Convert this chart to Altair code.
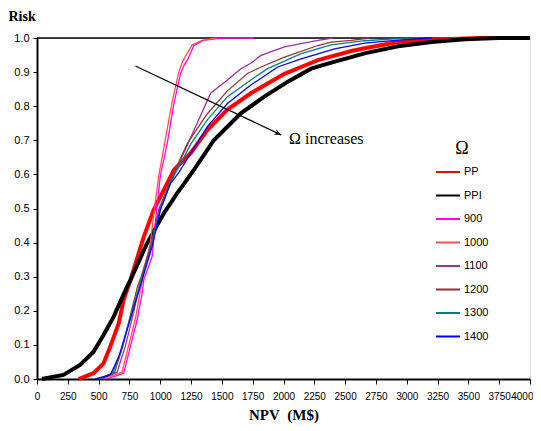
import altair as alt
import pandas as pd

series = ["PP", "PPI", "900", "1000", "1100", "1200", "1300", "1400"]
colors = ["#ff0000", "#000000", "#ff00ff", "#ff5050", "#993399", "#993333", "#008080", "#0000ff"]
thick_series = ["PP", "PPI"]

pp_npv = [337, 459, 540, 595, 663, 703, 758, 866, 947, 1057, 1111, 1246, 1382, 1545, 1735, 2008, 2143, 2279, 2550, 2658, 2930, 3202, 3582, 4000]
pp_risk = [0, 0.017, 0.046, 0.095, 0.163, 0.232, 0.29, 0.417, 0.496, 0.574, 0.613, 0.662, 0.73, 0.79, 0.838, 0.895, 0.915, 0.935, 0.962, 0.97, 0.988, 0.995, 1.0, 1.0]

ppi_npv = [40, 214, 350, 459, 540, 622, 731, 758, 893, 1029, 1138, 1273, 1436, 1654, 1844, 2035, 2224, 2387, 2550, 2658, 2930, 3202, 3473, 3745, 4000]
ppi_risk = [0, 0.012, 0.041, 0.08, 0.129, 0.183, 0.271, 0.29, 0.398, 0.486, 0.545, 0.613, 0.701, 0.779, 0.828, 0.872, 0.91, 0.928, 0.944, 0.955, 0.976, 0.988, 0.996, 1.0, 1.0]

o900_npv = [568, 703, 758, 812, 853, 866, 934, 975, 1002, 1057, 1111, 1165, 1192, 1220, 1273, 1350, 1464, 1520, 1760]
o900_risk = [0, 0.017, 0.095, 0.173, 0.251, 0.29, 0.359, 0.515, 0.598, 0.691, 0.808, 0.896, 0.92, 0.935, 0.978, 0.993, 0.998, 1.0, 1.0]

o1000_npv = [540, 690, 745, 800, 840, 860, 920, 960, 990, 1040, 1095, 1150, 1180, 1210, 1260, 1340, 1460]
o1000_risk = [0, 0.02, 0.1, 0.18, 0.26, 0.3, 0.4, 0.52, 0.6, 0.7, 0.81, 0.9, 0.93, 0.95, 0.98, 0.993, 1.0]

o1100_npv = [520, 650, 720, 780, 830, 850, 930, 990, 1111, 1251, 1409, 1545, 1654, 1735, 1817, 2008, 2279, 2400]
o1100_risk = [0, 0.02, 0.1, 0.19, 0.27, 0.3, 0.4, 0.5, 0.6, 0.711, 0.838, 0.877, 0.91, 0.926, 0.949, 0.974, 0.993, 1.0]

o1200_npv = [500, 630, 700, 760, 815, 845, 930, 995, 1080, 1130, 1220, 1382, 1545, 1708, 1817, 2008, 2279, 2387, 2550, 2700]
o1200_risk = [0, 0.02, 0.1, 0.19, 0.27, 0.3, 0.4, 0.5, 0.58, 0.62, 0.691, 0.778, 0.845, 0.896, 0.915, 0.944, 0.978, 0.988, 0.993, 1.0]

o1300_npv = [490, 610, 680, 740, 820, 850, 930, 1000, 1080, 1140, 1250, 1382, 1545, 1735, 1871, 2008, 2143, 2387, 2658, 2930, 3100]
o1300_risk = [0, 0.015, 0.08, 0.16, 0.26, 0.295, 0.39, 0.5, 0.575, 0.615, 0.69, 0.76, 0.828, 0.877, 0.91, 0.932, 0.954, 0.98, 0.992, 0.998, 1.0]

o1400_npv = [473, 595, 663, 731, 812, 853, 934, 1002, 1084, 1150, 1382, 1545, 1735, 1953, 2143, 2414, 2658, 2930, 3202]
o1400_risk = [0, 0.012, 0.065, 0.144, 0.241, 0.29, 0.388, 0.496, 0.574, 0.605, 0.74, 0.808, 0.862, 0.915, 0.939, 0.968, 0.985, 0.994, 1.0]

x_ticks = list(range(0, 4001, 250))
y_ticks = [round(i * 0.1, 1) for i in range(11)]

arrow_npv = [798, 1980]
arrow_risk = [0.918, 0.716]
note_npv = [2045]
note_risk = [0.704]
note_text = ["Ω increases"]

all_data = [
    ("PP", pp_npv, pp_risk), ("PPI", ppi_npv, ppi_risk),
    ("900", o900_npv, o900_risk), ("1000", o1000_npv, o1000_risk),
    ("1100", o1100_npv, o1100_risk), ("1200", o1200_npv, o1200_risk),
    ("1300", o1300_npv, o1300_risk), ("1400", o1400_npv, o1400_risk),
]
rows = []
for name, xs, ys in all_data:
    for i, (x, y) in enumerate(zip(xs, ys)):
        rows.append({"series": name, "npv": x, "risk": y, "i": i})
df = pd.DataFrame(rows)

x_enc = alt.X("npv:Q", scale=alt.Scale(domain=[0, 4000], nice=False),
              axis=alt.Axis(values=x_ticks, title="NPV\u00a0\u00a0(M$)", grid=False, format="d",
                            labelFont="Liberation Sans", labelFontSize=10, labelColor="#000",
                            labelPadding=7, tickSize=5, tickColor="#000", domainColor="#000",
                            domainWidth=2, titleFont="Liberation Serif", titleFontSize=15,
                            titleFontWeight="bold", titleColor="#000", titlePadding=6,
                            labelOverlap=False, labelFlush=False,
                            labelAlign=alt.condition("datum.value == 4000", alt.value("right"),
                                                     alt.value("center")),
                            labelOffset=alt.condition("datum.value == 4000", alt.value(3),
                                                      alt.value(0))))
y_enc = alt.Y("risk:Q", scale=alt.Scale(domain=[0, 1], nice=False),
              axis=alt.Axis(values=y_ticks, format=".1f", title="Risk", grid=False,
                            labelFont="Liberation Sans", labelFontSize=11, labelColor="#000",
                            labelPadding=4, tickSize=4, tickColor="#000", domainColor="#000",
                            domainWidth=2, titleFont="Liberation Serif", titleFontSize=14,
                            titleFontWeight="bold", titleColor="#000", titleAngle=0,
                            titleX=-29, titleY=-22, titleAlign="left", titleBaseline="middle",
                            labelOverlap=False))

color_enc = alt.Color("series:N", scale=alt.Scale(domain=series, range=colors),
                      sort=series,
                      legend=alt.Legend(title="Ω", orient="none", legendX=398, legendY=102,
                                        titleFont="Liberation Serif", titleFontSize=18,
                                        titleFontWeight="normal", titleColor="#000",
                                        titleAnchor="middle", titlePadding=1,
                                        labelFont="Liberation Sans", labelFontSize=11,
                                        labelColor="#000", labelOffset=3,
                                        symbolType="stroke", symbolSize=576,
                                        symbolStrokeWidth=2, rowPadding=5.5))

base = alt.Chart(df).encode(
    x=x_enc, y=y_enc, color=color_enc, order="i:Q", detail="series:N")

thick = base.mark_line(strokeWidth=4).transform_filter(
    alt.FieldOneOfPredicate(field="series", oneOf=thick_series))
thin = base.mark_line(strokeWidth=1.3).transform_filter(
    alt.FieldOneOfPredicate(field="series", oneOf=series[2:]))

top_rule = alt.Chart(pd.DataFrame({"risk": [1.0]})).mark_rule(color="#000", strokeWidth=1.5).encode(
    y=y_enc)

arrow_df = pd.DataFrame({"npv": arrow_npv, "risk": arrow_risk, "k": [0, 1]})
arrow_line = alt.Chart(arrow_df).mark_line(color="#000", strokeWidth=1.2).encode(
    x=x_enc, y=y_enc, order="k:Q")
head = alt.Chart(arrow_df.iloc[[1]]).mark_point(
    shape="M0,0L-1,-0.45L-0.7,0L-1,0.45Z", filled=True, color="#000", size=180,
    angle=25, opacity=1).encode(x=x_enc, y=y_enc)
note = alt.Chart(pd.DataFrame({"npv": note_npv, "risk": note_risk, "t": note_text})).mark_text(
    align="left", baseline="middle", font="Liberation Serif", fontSize=16, color="#000").encode(
    x=x_enc, y=y_enc, text="t:N")

chart = alt.layer(top_rule, thick, thin, arrow_line, head, note).properties(
    width=493, height=341,
    autosize=alt.AutoSizeParams(type="none"),
    padding={"left": 29, "top": 30, "right": 3, "bottom": 44},
).configure_view(stroke="#888888", strokeWidth=1.5).configure(background="white")

chart.save("out.html", embed_options={"renderer": "svg", "actions": False})
